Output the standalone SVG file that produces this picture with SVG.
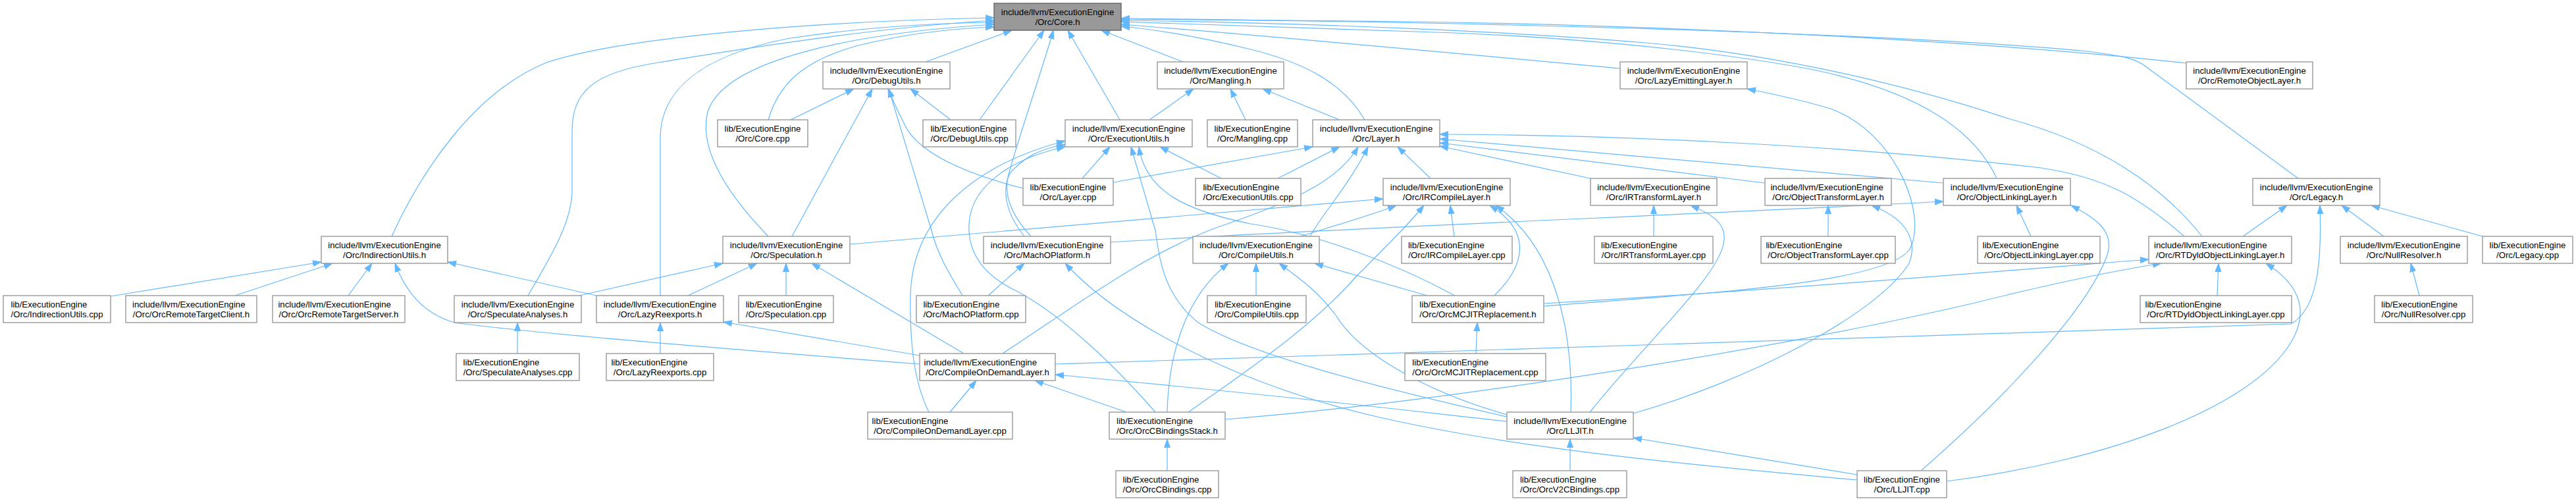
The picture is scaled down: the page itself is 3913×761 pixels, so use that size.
<svg xmlns="http://www.w3.org/2000/svg" width="3913" height="761" viewBox="0 0 3913 761">
<style>
.n rect{fill:#ffffff;stroke:#999999;stroke-width:1.4}
.root rect{fill:#999999;stroke:#666666;stroke-width:1.4}
text{font-family:"Liberation Sans",Arial,Helvetica,sans-serif;font-size:13.2px;fill:#000000}
.m{text-anchor:middle}
.s{text-anchor:start}
#edges path{fill:none;stroke:#63b8ff;stroke-width:1.2;marker-end:url(#ah)}
</style>
<defs>
<marker id="ah" markerUnits="userSpaceOnUse" markerWidth="14" markerHeight="11" refX="13" refY="5" orient="auto">
<path d="M0,0.5 L13,5 L0,9.5 z" fill="#63b8ff" stroke="#63b8ff" stroke-width="1"/>
</marker>
</defs>
<rect width="3913" height="761" fill="#ffffff"/>
<g id="edges">
<path d="M595,359 C640,260 720,140 830,95 C950,55 1250,32 1510,27"/>
<path d="M802,449 C830,400 869,340 869,290 L869,200 C869,140 900,110 1000,95 C1200,62 1380,38 1510,31"/>
<path d="M1003,449 L1003,210 C1003,140 1060,85 1200,58 C1320,40 1430,35 1510,34"/>
<path d="M1167,359 C1110,300 1060,230 1075,170 C1100,90 1300,50 1510,37"/>
<path d="M1167,182 C1185,120 1230,90 1300,70 C1380,50 1450,43 1510,41"/>
<path d="M1406,94 L1537,46"/>
<path d="M1488,182 L1586,46"/>
<path d="M1566,359 C1535,325 1524,295 1532,265 C1550,200 1585,100 1600,46"/>
<path d="M1701,182 L1622,46"/>
<path d="M1797,94 L1673,46"/>
<path d="M2073,182 C2040,125 1980,95 1900,75 C1830,58 1760,45 1703,40"/>
<path d="M2461,104 C2200,80 1900,52 1703,37"/>
<path d="M3321,96 C3000,60 2500,38 2150,33 C1950,30 1800,29 1703,29"/>
<path d="M3491,271 L3262,103 C3245,88 3220,84 3170,78 C2900,52 2300,34 1703,28"/>
<path d="M3033,271 C3000,200 2920,140 2750,105 C2550,68 2300,52 2150,48 C1950,42 1800,35 1703,33"/>
<path d="M3345,359 C3290,290 3200,220 3050,180 C2900,130 2700,82 2500,65 C2300,48 2000,35 1703,31"/>
<path d="M1201,182 L1297,135"/>
<path d="M1203,359 L1325,135"/>
<path d="M1462,449 C1445,420 1425,390 1415,350 L1350,135"/>
<path d="M1554,286 C1460,262 1390,230 1372,185 C1362,165 1355,150 1349,135"/>
<path d="M1444,182 L1383,135"/>
<path d="M1746,182 L1813,135"/>
<path d="M1892,182 L1869,135"/>
<path d="M2035,182 L1918,135"/>
<path d="M1644,271 L1686,223"/>
<path d="M1855,271 L1762,223"/>
<path d="M1556,359 C1525,320 1522,285 1535,262 C1555,240 1580,225 1618,220"/>
<path d="M1411,626 C1388,580 1382,520 1383,450 C1385,330 1480,250 1618,214"/>
<path d="M1755,626 C1680,540 1600,470 1540,440 C1490,415 1470,380 1472,340 C1475,280 1540,240 1618,223"/>
<path d="M2210,449 C2120,400 2000,355 1900,340 C1800,320 1740,290 1730,223"/>
<path d="M2289,633 C2100,590 1900,540 1820,490 C1770,450 1762,400 1755,350 L1718,223"/>
<path d="M1691,277 L1994,223"/>
<path d="M1941,271 L2035,223"/>
<path d="M1990,359 C2005,330 2050,280 2078,223"/>
<path d="M1523,537 C1640,460 1740,385 1850,345 C1950,310 2030,280 2063,223"/>
<path d="M2173,271 L2123,223"/>
<path d="M2416,271 L2187,222"/>
<path d="M2681,278 L2187,217"/>
<path d="M2952,278 L2187,211"/>
<path d="M3318,359 C3250,300 3200,270 3100,255 C2800,220 2450,205 2187,204"/>
<path d="M1291,371 L2101,302"/>
<path d="M1975,359 C2020,345 2080,328 2121,312"/>
<path d="M1805,626 C1900,560 2000,490 2060,420 C2110,370 2140,340 2163,312"/>
<path d="M2209,359 L2203,312"/>
<path d="M2270,449 C2320,400 2325,350 2263,312"/>
<path d="M2386,626 C2390,520 2370,380 2272,312"/>
<path d="M2512,359 L2512,312"/>
<path d="M2415,626 C2500,520 2610,420 2618,370 C2625,340 2600,325 2568,312"/>
<path d="M2777,359 L2777,312"/>
<path d="M2481,628 C2650,580 2850,480 2900,400 C2915,360 2890,330 2843,312"/>
<path d="M3085,359 L3063,312"/>
<path d="M1687,368 C2000,348 2600,325 2952,306"/>
<path d="M2918,715 C3050,600 3170,470 3200,390 C3215,350 3180,330 3146,312"/>
<path d="M3407,359 L3474,312"/>
<path d="M3621,359 L3557,312"/>
<path d="M3771,359 L3602,312"/>
<path d="M1603,553 C2300,530 3000,510 3480,492 C3520,470 3527,400 3524,312"/>
<path d="M168,450 L488,398"/>
<path d="M357,449 L505,400"/>
<path d="M529,449 L565,400"/>
<path d="M906,449 L680,398"/>
<path d="M1397,553 C1100,530 800,505 690,490 C640,475 615,440 600,400"/>
<path d="M880,449 L1098,400"/>
<path d="M1045,449 L1150,400"/>
<path d="M1194,449 L1194,400"/>
<path d="M1464,537 L1233,400"/>
<path d="M1501,449 L1556,400"/>
<path d="M2821,729 C2550,705 2300,680 2100,635 C1880,585 1700,490 1618,400"/>
<path d="M1908,449 L1908,400"/>
<path d="M1773,626 C1775,540 1800,450 1866,400"/>
<path d="M2168,449 L1997,400"/>
<path d="M2289,630 C2150,590 2060,530 2030,480 C2000,440 1970,420 1943,400"/>
<path d="M3368,449 L3370,400"/>
<path d="M2345,461 C2700,440 3000,415 3264,394"/>
<path d="M1861,637 C2200,610 2700,530 3000,460 C3120,430 3220,410 3283,400"/>
<path d="M2957,731 C3200,700 3420,620 3480,520 C3510,470 3490,430 3442,400"/>
<path d="M3675,449 L3662,400"/>
<path d="M786,537 L786,490"/>
<path d="M1003,537 L1003,490"/>
<path d="M1397,540 L1099,489"/>
<path d="M1443,626 L1483,578"/>
<path d="M1711,626 L1572,578"/>
<path d="M2289,640 C2150,625 2000,606 1603,569"/>
<path d="M2242,537 L2244,490"/>
<path d="M2345,465 C2600,445 2860,430 2900,380 C2930,330 2880,200 2780,165 C2730,150 2690,142 2654,135"/>
<path d="M1773,715 L1773,667"/>
<path d="M2385,715 L2385,667"/>
<path d="M2821,721 L2481,665"/>
</g>
<g id="node-core_h" class="root"><rect x="1510" y="5" width="193" height="41"/><text class="m" x="1606.5" y="23.3">include/llvm/ExecutionEngine</text><text class="m" x="1606.5" y="38.3">/Orc/Core.h</text></g>
<g id="node-debugutils_h" class="n"><rect x="1250" y="94" width="193" height="41"/><text class="m" x="1346.5" y="112.3">include/llvm/ExecutionEngine</text><text class="m" x="1346.5" y="127.3">/Orc/DebugUtils.h</text></g>
<g id="node-mangling_h" class="n"><rect x="1758" y="94" width="192" height="41"/><text class="m" x="1854" y="112.3">include/llvm/ExecutionEngine</text><text class="m" x="1854" y="127.3">/Orc/Mangling.h</text></g>
<g id="node-lazyemitting_h" class="n"><rect x="2461" y="94" width="193" height="41"/><text class="m" x="2557.5" y="112.3">include/llvm/ExecutionEngine</text><text class="m" x="2557.5" y="127.3">/Orc/LazyEmittingLayer.h</text></g>
<g id="node-remoteobj_h" class="n"><rect x="3321" y="94" width="192" height="41"/><text class="m" x="3417" y="112.3">include/llvm/ExecutionEngine</text><text class="m" x="3417" y="127.3">/Orc/RemoteObjectLayer.h</text></g>
<g id="node-core_cpp" class="n"><rect x="1090" y="182" width="137" height="41"/><text class="m" x="1158.5" y="200.3">lib/ExecutionEngine</text><text class="m" x="1158.5" y="215.3">/Orc/Core.cpp</text></g>
<g id="node-debugutils_cpp" class="n"><rect x="1402" y="182" width="141" height="41"/><text class="s" x="1413.4" y="200.3">lib/ExecutionEngine</text><text class="m" x="1472.5" y="215.3">/Orc/DebugUtils.cpp</text></g>
<g id="node-executionutils_h" class="n"><rect x="1618" y="182" width="193" height="41"/><text class="m" x="1714.5" y="200.3">include/llvm/ExecutionEngine</text><text class="m" x="1714.5" y="215.3">/Orc/ExecutionUtils.h</text></g>
<g id="node-mangling_cpp" class="n"><rect x="1834" y="182" width="137" height="41"/><text class="m" x="1902.5" y="200.3">lib/ExecutionEngine</text><text class="m" x="1902.5" y="215.3">/Orc/Mangling.cpp</text></g>
<g id="node-layer_h" class="n"><rect x="1994" y="182" width="193" height="41"/><text class="m" x="2090.5" y="200.3">include/llvm/ExecutionEngine</text><text class="m" x="2090.5" y="215.3">/Orc/Layer.h</text></g>
<g id="node-layer_cpp" class="n"><rect x="1554" y="271" width="137" height="41"/><text class="m" x="1622.5" y="289.3">lib/ExecutionEngine</text><text class="m" x="1622.5" y="304.3">/Orc/Layer.cpp</text></g>
<g id="node-executionutils_cpp" class="n"><rect x="1816" y="271" width="160" height="41"/><text class="s" x="1827.4" y="289.3">lib/ExecutionEngine</text><text class="m" x="1896" y="304.3">/Orc/ExecutionUtils.cpp</text></g>
<g id="node-ircompilelayer_h" class="n"><rect x="2101" y="271" width="193" height="41"/><text class="m" x="2197.5" y="289.3">include/llvm/ExecutionEngine</text><text class="m" x="2197.5" y="304.3">/Orc/IRCompileLayer.h</text></g>
<g id="node-irtransformlayer_h" class="n"><rect x="2416" y="271" width="192" height="41"/><text class="m" x="2512" y="289.3">include/llvm/ExecutionEngine</text><text class="m" x="2512" y="304.3">/Orc/IRTransformLayer.h</text></g>
<g id="node-objtransformlayer_h" class="n"><rect x="2681" y="271" width="192" height="41"/><text class="s" x="2689.4" y="289.3">include/llvm/ExecutionEngine</text><text class="m" x="2777" y="304.3">/Orc/ObjectTransformLayer.h</text></g>
<g id="node-objlinking_h" class="n"><rect x="2952" y="271" width="193" height="41"/><text class="m" x="3048.5" y="289.3">include/llvm/ExecutionEngine</text><text class="m" x="3048.5" y="304.3">/Orc/ObjectLinkingLayer.h</text></g>
<g id="node-legacy_h" class="n"><rect x="3422" y="271" width="193" height="41"/><text class="m" x="3518.5" y="289.3">include/llvm/ExecutionEngine</text><text class="m" x="3518.5" y="304.3">/Orc/Legacy.h</text></g>
<g id="node-indirectionutils_h" class="n"><rect x="488" y="359" width="192" height="41"/><text class="m" x="584" y="377.3">include/llvm/ExecutionEngine</text><text class="m" x="584" y="392.3">/Orc/IndirectionUtils.h</text></g>
<g id="node-speculation_h" class="n"><rect x="1098" y="359" width="193" height="41"/><text class="m" x="1194.5" y="377.3">include/llvm/ExecutionEngine</text><text class="m" x="1194.5" y="392.3">/Orc/Speculation.h</text></g>
<g id="node-machoplatform_h" class="n"><rect x="1494" y="359" width="193" height="41"/><text class="m" x="1590.5" y="377.3">include/llvm/ExecutionEngine</text><text class="m" x="1590.5" y="392.3">/Orc/MachOPlatform.h</text></g>
<g id="node-compileutils_h" class="n"><rect x="1812" y="359" width="192" height="41"/><text class="m" x="1908" y="377.3">include/llvm/ExecutionEngine</text><text class="m" x="1908" y="392.3">/Orc/CompileUtils.h</text></g>
<g id="node-ircompilelayer_cpp" class="n"><rect x="2129" y="359" width="168" height="41"/><text class="s" x="2138.9" y="377.3">lib/ExecutionEngine</text><text class="m" x="2213" y="392.3">/Orc/IRCompileLayer.cpp</text></g>
<g id="node-irtransformlayer_cpp" class="n"><rect x="2422" y="359" width="180" height="41"/><text class="s" x="2432" y="377.3">lib/ExecutionEngine</text><text class="m" x="2512" y="392.3">/Orc/IRTransformLayer.cpp</text></g>
<g id="node-objtransformlayer_cpp" class="n"><rect x="2675" y="359" width="204" height="41"/><text class="s" x="2682.4" y="377.3">lib/ExecutionEngine</text><text class="m" x="2777" y="392.3">/Orc/ObjectTransformLayer.cpp</text></g>
<g id="node-objlinking_cpp" class="n"><rect x="3004" y="359" width="186" height="41"/><text class="s" x="3011.5" y="377.3">lib/ExecutionEngine</text><text class="m" x="3097" y="392.3">/Orc/ObjectLinkingLayer.cpp</text></g>
<g id="node-rtdyld_h" class="n"><rect x="3264" y="359" width="217" height="41"/><text class="s" x="3272" y="377.3">include/llvm/ExecutionEngine</text><text class="m" x="3372.5" y="392.3">/Orc/RTDyldObjectLinkingLayer.h</text></g>
<g id="node-nullresolver_h" class="n"><rect x="3555" y="359" width="193" height="41"/><text class="m" x="3651.5" y="377.3">include/llvm/ExecutionEngine</text><text class="m" x="3651.5" y="392.3">/Orc/NullResolver.h</text></g>
<g id="node-legacy_cpp" class="n"><rect x="3771" y="359" width="137" height="41"/><text class="m" x="3839.5" y="377.3">lib/ExecutionEngine</text><text class="m" x="3839.5" y="392.3">/Orc/Legacy.cpp</text></g>
<g id="node-indirectionutils_cpp" class="n"><rect x="5" y="449" width="163" height="41"/><text class="s" x="16.5" y="467.3">lib/ExecutionEngine</text><text class="m" x="86.5" y="482.3">/Orc/IndirectionUtils.cpp</text></g>
<g id="node-orcremoteclient_h" class="n"><rect x="191" y="449" width="199" height="41"/><text class="s" x="201" y="467.3">include/llvm/ExecutionEngine</text><text class="m" x="290.5" y="482.3">/Orc/OrcRemoteTargetClient.h</text></g>
<g id="node-orcremoteserver_h" class="n"><rect x="414" y="449" width="201" height="41"/><text class="s" x="422.4" y="467.3">include/llvm/ExecutionEngine</text><text class="m" x="514.5" y="482.3">/Orc/OrcRemoteTargetServer.h</text></g>
<g id="node-speculateanalyses_h" class="n"><rect x="690" y="449" width="193" height="41"/><text class="m" x="786.5" y="467.3">include/llvm/ExecutionEngine</text><text class="m" x="786.5" y="482.3">/Orc/SpeculateAnalyses.h</text></g>
<g id="node-lazyreexports_h" class="n"><rect x="906" y="449" width="193" height="41"/><text class="m" x="1002.5" y="467.3">include/llvm/ExecutionEngine</text><text class="m" x="1002.5" y="482.3">/Orc/LazyReexports.h</text></g>
<g id="node-speculation_cpp" class="n"><rect x="1122" y="449" width="144" height="41"/><text class="s" x="1132.7" y="467.3">lib/ExecutionEngine</text><text class="m" x="1194" y="482.3">/Orc/Speculation.cpp</text></g>
<g id="node-machoplatform_cpp" class="n"><rect x="1392" y="449" width="166" height="41"/><text class="s" x="1402.4" y="467.3">lib/ExecutionEngine</text><text class="m" x="1475" y="482.3">/Orc/MachOPlatform.cpp</text></g>
<g id="node-compileutils_cpp" class="n"><rect x="1834" y="449" width="150" height="41"/><text class="s" x="1845.2" y="467.3">lib/ExecutionEngine</text><text class="m" x="1909" y="482.3">/Orc/CompileUtils.cpp</text></g>
<g id="node-orcmcjit_h" class="n"><rect x="2145" y="449" width="200" height="41"/><text class="s" x="2156.3" y="467.3">lib/ExecutionEngine</text><text class="m" x="2245" y="482.3">/Orc/OrcMCJITReplacement.h</text></g>
<g id="node-rtdyld_cpp" class="n"><rect x="3251" y="449" width="230" height="41"/><text class="s" x="3258.5" y="467.3">lib/ExecutionEngine</text><text class="m" x="3366" y="482.3">/Orc/RTDyldObjectLinkingLayer.cpp</text></g>
<g id="node-nullresolver_cpp" class="n"><rect x="3607" y="449" width="149" height="41"/><text class="s" x="3617.3" y="467.3">lib/ExecutionEngine</text><text class="m" x="3681.5" y="482.3">/Orc/NullResolver.cpp</text></g>
<g id="node-speculateanalyses_cpp" class="n"><rect x="693" y="537" width="187" height="41"/><text class="s" x="703.6" y="555.3">lib/ExecutionEngine</text><text class="m" x="786.5" y="570.3">/Orc/SpeculateAnalyses.cpp</text></g>
<g id="node-lazyreexports_cpp" class="n"><rect x="921" y="537" width="163" height="41"/><text class="s" x="928.4" y="555.3">lib/ExecutionEngine</text><text class="m" x="1002.5" y="570.3">/Orc/LazyReexports.cpp</text></g>
<g id="node-compileondemand_h" class="n"><rect x="1397" y="537" width="206" height="41"/><text class="s" x="1403.5" y="555.3">include/llvm/ExecutionEngine</text><text class="m" x="1500" y="570.3">/Orc/CompileOnDemandLayer.h</text></g>
<g id="node-orcmcjit_cpp" class="n"><rect x="2134" y="537" width="214" height="41"/><text class="s" x="2145.3" y="555.3">lib/ExecutionEngine</text><text class="m" x="2241" y="570.3">/Orc/OrcMCJITReplacement.cpp</text></g>
<g id="node-compileondemand_cpp" class="n"><rect x="1318" y="626" width="220" height="41"/><text class="s" x="1324.6" y="644.3">lib/ExecutionEngine</text><text class="m" x="1428" y="659.3">/Orc/CompileOnDemandLayer.cpp</text></g>
<g id="node-orccbindingsstack_h" class="n"><rect x="1685" y="626" width="176" height="41"/><text class="s" x="1696" y="644.3">lib/ExecutionEngine</text><text class="m" x="1773" y="659.3">/Orc/OrcCBindingsStack.h</text></g>
<g id="node-lljit_h" class="n"><rect x="2289" y="626" width="192" height="41"/><text class="m" x="2385" y="644.3">include/llvm/ExecutionEngine</text><text class="m" x="2385" y="659.3">/Orc/LLJIT.h</text></g>
<g id="node-orccbindings_cpp" class="n"><rect x="1695" y="715" width="156" height="41"/><text class="s" x="1705.5" y="733.3">lib/ExecutionEngine</text><text class="m" x="1773" y="748.3">/Orc/OrcCBindings.cpp</text></g>
<g id="node-orcv2cbindings_cpp" class="n"><rect x="2298" y="715" width="173" height="41"/><text class="s" x="2308.9" y="733.3">lib/ExecutionEngine</text><text class="m" x="2384.5" y="748.3">/Orc/OrcV2CBindings.cpp</text></g>
<g id="node-lljit_cpp" class="n"><rect x="2821" y="715" width="136" height="41"/><text class="m" x="2889" y="733.3">lib/ExecutionEngine</text><text class="m" x="2889" y="748.3">/Orc/LLJIT.cpp</text></g>
</svg>
